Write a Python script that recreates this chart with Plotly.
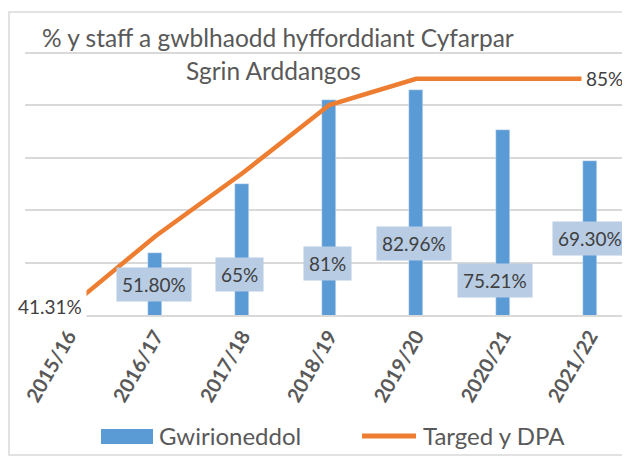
import plotly.graph_objects as go

# ---- data ----
years = ["2015/16", "2016/17", "2017/18", "2018/19", "2019/20", "2020/21", "2021/22"]
actual = [None, 51.80, 65, 81, 82.96, 75.21, 69.30]
actual_labels = ["", "51.80%", "65%", "81%", "82.96%", "75.21%", "69.30%"]
target = [41.31, 55, 67, 80, 85, 85, 85]
target_labels = ["41.31%", "", "", "", "", "", "85%"]
title_lines = ["% y staff a gwblhaodd hyfforddiant Cyfarpar", "Sgrin Arddangos"]
legend_names = ["Gwirioneddol", "Targed y DPA"]

# ---- styling / placement ----
BLUE = "#5b9bd5"
ORANGE = "#ed7d31"
LABEL_BG = "#b8cce4"
GRID = "#d9d9d9"
TXT = "#595959"
DARK = "#404040"
FONT = "Lato"

YMIN, YMAX = 40, 90.3
PXU = 5.25  # pixels per % unit

OFF = 8  # page body margin
W, H = 630 - OFF, 459 - OFF
B = 144
PH = (YMAX - YMIN) * PXU
L = 25 - OFF
T = H - B - PH
PW = W - L

# label placement (data-y of box centre, x pixel shift)
label_y = [None, 45.8, 47.7, 49.8, 53.6, 46.6, 54.5]
label_dx = [0, -1, -2.5, -1.5, -2, -8.5, 0]


def px(x):
    """screen x -> paper"""
    return (x - OFF - L) / PW


def py(y):
    """screen y -> paper"""
    return 1 - (y - OFF - T) / PH


fig = go.Figure()
fig.add_trace(go.Bar(
    x=years, y=actual, name=legend_names[0], marker_color=BLUE,
    width=0.16, showlegend=False,
))
fig.add_trace(go.Scatter(
    x=years, y=target, name=legend_names[1], mode="lines",
    line=dict(color=ORANGE, width=4.5), showlegend=False,
))

annotations = []
for i, lab in enumerate(actual_labels):
    if lab:
        annotations.append(dict(
            x=years[i], y=label_y[i], xref="x", yref="y", text=lab,
            showarrow=False, xshift=label_dx[i],
            font=dict(family=FONT, size=19, color=DARK),
            bgcolor=LABEL_BG, borderpad=5,
            xanchor="center", yanchor="middle",
        ))
for i, lab in enumerate(target_labels):
    if lab:
        first = i == 0
        annotations.append(dict(
            x=years[i], y=target[i], xref="x", yref="y", text=lab,
            showarrow=False,
            xanchor="right" if first else "left",
            xshift=19 if first else -9,
            yshift=2 if first else 0,
            yanchor="middle",
            font=dict(family=FONT, size=19, color=DARK),
            bgcolor="white", borderpad=4,
        ))

# title (two centred lines)
annotations.append(dict(
    x=px(278), y=py(37), xref="paper", yref="paper", text=title_lines[0],
    showarrow=False, xanchor="center", yanchor="middle",
    font=dict(family=FONT, size=24.5, color=TXT),
))
annotations.append(dict(
    x=px(273), y=py(70), xref="paper", yref="paper", text=title_lines[1],
    showarrow=False, xanchor="center", yanchor="middle",
    font=dict(family=FONT, size=24.5, color=TXT),
))
# legend texts
annotations.append(dict(
    x=px(157), y=py(436), xref="paper", yref="paper", text=legend_names[0],
    showarrow=False, xanchor="left", yanchor="middle",
    font=dict(family=FONT, size=24, color=TXT),
))
annotations.append(dict(
    x=px(421), y=py(436), xref="paper", yref="paper", text=legend_names[1],
    showarrow=False, xanchor="left", yanchor="middle",
    font=dict(family=FONT, size=24, color=TXT),
))

shapes = [
    # outer chart border
    dict(type="rect", xref="paper", yref="paper",
         x0=px(9), x1=px(640), y0=py(455), y1=py(12),
         line=dict(color=GRID, width=1.5), layer="below"),
    # legend symbols
    dict(type="rect", xref="paper", yref="paper",
         x0=px(101), x1=px(153), y0=py(444), y1=py(429),
         fillcolor=BLUE, line=dict(width=0)),
    dict(type="line", xref="paper", yref="paper",
         x0=px(362), x1=px(416), y0=py(436), y1=py(436),
         line=dict(color=ORANGE, width=5)),
]

fig.update_layout(
    width=W, height=H,
    margin=dict(l=L, r=0, t=T, b=B, pad=0, autoexpand=False),
    paper_bgcolor="white", plot_bgcolor="white",
    showlegend=False,
    annotations=annotations, shapes=shapes,
    bargap=0,
    font=dict(family=FONT, color=TXT),
)
fig.update_xaxes(
    type="category", range=[-0.5, 6.46], automargin=False,
    showline=True, linecolor=GRID, linewidth=1.5,
    showgrid=False, ticks="", tickangle=-60,
    tickfont=dict(family=FONT, size=20, color=TXT, weight="bold"),
    fixedrange=True,
)
fig.update_yaxes(
    range=[YMIN, YMAX], dtick=10, tick0=40, automargin=False,
    showgrid=True, gridcolor=GRID, gridwidth=1.5,
    showticklabels=False, zeroline=False, ticks="",
    fixedrange=True,
)

fig.write_html("out.html")
